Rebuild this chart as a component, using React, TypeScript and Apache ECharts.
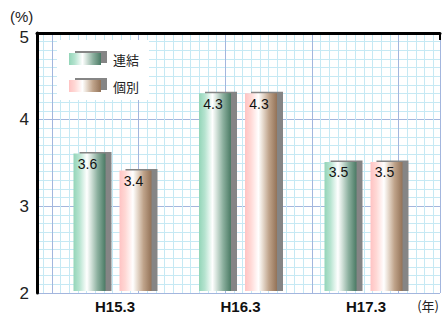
import React, { useEffect, useRef } from 'react';
import * as echarts from 'echarts';

const categories = ['H15.3', 'H16.3', 'H17.3'];
const seriesNames = ['連結', '個別'];
const renketsu = [3.6, 4.3, 3.5];
const kobetsu = [3.4, 4.3, 3.5];
const yMin = 2;
const yMax = 5;
const yInterval = 1;
const yUnit = '(%)';
const xUnit = '(年)';

const LATIN = "Arial, 'Liberation Sans', 'Noto Sans CJK JP', sans-serif";
const CJK = "'Noto Sans CJK JP', 'Noto Sans', sans-serif";

const MINOR = '#c6e9f4';
const MAJOR = '#a3b6de';
const SHADOW = '#858585';

const greenStops = [
  { offset: 0, color: '#93d5b8' },
  { offset: 0.18, color: '#b5e3cf' },
  { offset: 0.42, color: '#ffffff' },
  { offset: 0.55, color: '#d3e2da' },
  { offset: 0.75, color: '#8cb09f' },
  { offset: 1, color: '#4a7a64' },
];
const pinkStops = [
  { offset: 0, color: '#ffc3c3' },
  { offset: 0.18, color: '#ffd8d5' },
  { offset: 0.42, color: '#ffffff' },
  { offset: 0.55, color: '#e8dcd0' },
  { offset: 0.75, color: '#bfa38a' },
  { offset: 1, color: '#937257' },
];

const grad = (stops: any[]) => new echarts.graphic.LinearGradient(0, 0, 1, 0, stops);

const makeRender = (offset: number, stops: any[]) => (params: any, api: any) => {
  const idx = api.value(0);
  const val = api.value(1);
  const top = api.coord([idx, val]);
  const base = api.coord([idx, yMin]);
  const bw = 32;
  const x = top[0] + offset;
  const h = base[1] - top[1];
  return {
    type: 'group',
    children: [
      { type: 'rect', shape: { x: x + 6, y: top[1] - 1.5, width: bw, height: h + 1.5 }, style: { fill: SHADOW } },
      { type: 'rect', shape: { x, y: top[1], width: bw, height: h }, style: { fill: grad(stops) } },
      {
        type: 'text',
        x: x + bw / 2 - 2,
        y: top[1] + 10.5,
        style: {
          text: Number(val).toFixed(1),
          align: 'center',
          verticalAlign: 'middle',
          fontSize: 14,
          fontFamily: LATIN,
          fill: '#111',
        },
      },
    ],
  };
};

export default function App() {
  const ref = useRef<HTMLDivElement>(null);
  useEffect(() => {
    if (!ref.current) return;
    const chart = echarts.init(ref.current, undefined, { renderer: 'svg' });
    const option: any = {
      animation: false,
      backgroundColor: '#ffffff',
      grid: [
        { left: 37, right: 3, top: 33, bottom: 21 },
        { left: 52.25, right: 14.25, top: 33, bottom: 21 },
      ],
      xAxis: [
        {
          gridIndex: 0,
          type: 'value',
          min: 8.29,
          max: 54.79,
          splitNumber: 46,
          z: 0,
          axisLine: { show: false },
          axisTick: { show: false },
          axisLabel: { show: false },
          splitLine: { show: true, lineStyle: { color: MINOR, width: 1 } },
        },
        {
          gridIndex: 0,
          type: 'value',
          min: 0.829,
          max: 5.479,
          splitNumber: 5,
          z: 0,
          axisLine: { show: false },
          axisTick: { show: false },
          axisLabel: { show: false },
          splitLine: { show: true, lineStyle: { color: MAJOR, width: 1 } },
        },
        {
          gridIndex: 0,
          type: 'value',
          min: 0,
          max: 1,
          interval: 1,
          z: 6,
          axisLine: { show: true, lineStyle: { color: '#000', width: 3 } },
          axisTick: { show: true, inside: true, length: 7, lineStyle: { color: '#000', width: 2 } },
          axisLabel: { show: false },
          splitLine: { show: false },
        },
        {
          gridIndex: 1,
          type: 'category',
          data: categories,
          axisLine: { show: false },
          axisTick: { show: false },
          axisLabel: { fontSize: 15, fontWeight: 'bold', color: '#111', fontFamily: LATIN, margin: 8 },
          splitLine: { show: false },
        },
      ],
      yAxis: [
        {
          gridIndex: 0,
          type: 'value',
          min: yMin,
          max: yMax,
          interval: yInterval,
          z: 6,
          axisLine: { show: true, lineStyle: { color: '#000', width: 3 } },
          axisTick: { show: false },
          axisLabel: {
            fontSize: 17,
            color: '#222',
            fontFamily: LATIN,
            margin: 8,
            formatter: (v: number) => (v === yMax ? '{t|' + v + '}' : String(v)),
            rich: { t: { fontSize: 17, fontFamily: LATIN, color: '#222', padding: [8, 0, 0, 0] } },
          },
          splitLine: { show: false },
        },
        {
          gridIndex: 0,
          type: 'value',
          min: yMin,
          max: yMax,
          interval: yInterval,
          z: 0,
          axisLine: { show: false },
          axisTick: { show: false },
          axisLabel: { show: false },
          splitLine: { show: true, lineStyle: { color: MAJOR, width: 1 } },
          minorTick: { show: false, splitNumber: 10 },
          minorSplitLine: { show: true, lineStyle: { color: MINOR, width: 1 } },
        },
        {
          gridIndex: 1,
          type: 'value',
          min: yMin,
          max: yMax,
          interval: yInterval,
          show: false,
          splitLine: { show: false },
        },
      ],
      legend: {
        orient: 'vertical',
        left: 57,
        top: 40,
        z: 8,
        padding: [12, 10, 7, 12],
        itemGap: 13,
        itemWidth: 32,
        itemHeight: 12,
        backgroundColor: '#ffffff',
        selectedMode: false,
        textStyle: { fontSize: 13, fontFamily: CJK, color: '#222', padding: [0, 0, 0, 7], lineHeight: 14 },
        data: [
          {
            name: seriesNames[0],
            icon: 'rect',
            itemStyle: { color: grad(greenStops), shadowColor: SHADOW, shadowOffsetX: 6, shadowOffsetY: -2, shadowBlur: 0 },
          },
          {
            name: seriesNames[1],
            icon: 'rect',
            itemStyle: { color: grad(pinkStops), shadowColor: SHADOW, shadowOffsetX: 6, shadowOffsetY: -2, shadowBlur: 0 },
          },
        ],
      },
      graphic: [
        { type: 'text', left: 10, top: 9, style: { text: yUnit, fontSize: 15, fontFamily: LATIN, fill: '#222' } },
        { type: 'text', right: 4, top: 299, style: { text: xUnit, fontSize: 13, fontFamily: CJK, fill: '#222' } },
      ],
      series: [
        {
          name: seriesNames[0],
          type: 'custom',
          xAxisIndex: 3,
          yAxisIndex: 2,
          z: 3,
          itemStyle: { color: grad(greenStops) },
          encode: { x: 0, y: 1 },
          renderItem: makeRender(-41.5, greenStops),
          data: renketsu.map((v, i) => [i, v]),
        },
        {
          name: seriesNames[1],
          type: 'custom',
          xAxisIndex: 3,
          yAxisIndex: 2,
          z: 3,
          itemStyle: { color: grad(pinkStops) },
          encode: { x: 0, y: 1 },
          renderItem: makeRender(4.5, pinkStops),
          data: kobetsu.map((v, i) => [i, v]),
        },
      ],
    };
    chart.setOption(option);
    return () => chart.dispose();
  }, []);
  return (
    <div
      ref={ref}
      style={{ position: 'fixed', left: 0, top: 0, width: 443, height: 314 }}
    />
  );
}
